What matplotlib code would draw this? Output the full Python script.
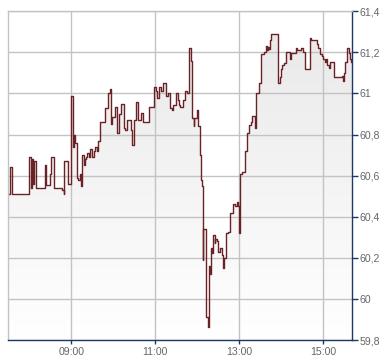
import numpy as np
import matplotlib
matplotlib.use("Agg")
import matplotlib.pyplot as plt
from matplotlib.patches import Polygon
from matplotlib.colors import LinearSegmentedColormap

# intraday price (step data, time of trade -> price)
times = [
    "07:31", "07:33", "07:36", "08:00", "08:03", "08:04", "08:06", "08:07", "08:09", "08:22",
    "08:24", "08:30", "08:31", "08:35", "08:47", "08:49", "08:50", "08:56", "09:00", "09:03",
    "09:04", "09:06", "09:08", "09:10", "09:12", "09:14", "09:16", "09:18", "09:20", "09:21",
    "09:23", "09:25", "09:27", "09:30", "09:32", "09:34", "09:37", "09:39", "09:41", "09:49",
    "09:53", "09:56", "09:57", "09:58", "10:03", "10:06", "10:09", "10:11", "10:15", "10:17",
    "10:20", "10:25", "10:27", "10:30", "10:33", "10:36", "10:40", "10:42", "10:51", "10:58",
    "11:01", "11:03", "11:06", "11:09", "11:11", "11:16", "11:18", "11:21", "11:24", "11:26",
    "11:30", "11:32", "11:34", "11:36", "11:40", "11:43", "11:45", "11:48", "11:49", "11:51",
    "11:53", "11:55", "11:56", "12:00", "12:02", "12:04", "12:05", "12:06", "12:07", "12:08",
    "12:09", "12:13", "12:15", "12:17", "12:19", "12:20", "12:21", "12:23", "12:25", "12:26",
    "12:28", "12:30", "12:33", "12:35", "12:37", "12:39", "12:42", "12:44", "12:47", "12:51",
    "12:52", "12:54", "12:57", "12:59", "13:00", "13:01", "13:04", "13:09", "13:11", "13:12",
    "13:14", "13:17", "13:19", "13:23", "13:24", "13:29", "13:32", "13:35", "13:39", "13:40",
    "13:41", "13:43", "13:44", "13:46", "13:56", "13:58", "14:00", "14:02", "14:04", "14:07",
    "14:13", "14:15", "14:21", "14:23", "14:29", "14:31", "14:34", "14:41", "14:43", "14:51",
    "14:53", "14:56", "14:58", "15:00", "15:03", "15:04", "15:06", "15:08", "15:10", "15:16",
    "15:27", "15:28", "15:30", "15:32", "15:34", "15:35", "15:37", "15:39", "15:40", "15:41",
]
prices = [
    60.51, 60.64, 60.51, 60.69, 60.54, 60.68, 60.56, 60.67, 60.54, 60.65,
    60.555, 60.61, 60.69, 60.54, 60.53, 60.51, 60.67, 60.56, 60.99, 60.74,
    60.80, 60.76, 60.59, 60.58, 60.61, 60.55, 60.70, 60.65, 60.68, 60.69,
    60.71, 60.69, 60.73, 60.69, 60.72, 60.74, 60.72, 60.77, 60.86, 60.93,
    61.00, 61.02, 60.85, 60.885, 60.935, 60.81, 60.90, 60.95, 60.83, 60.82,
    60.87, 60.82, 60.75, 60.87, 60.96, 60.87, 60.905, 60.86, 60.935, 61.03,
    61.01, 60.98, 61.03, 61.01, 61.05, 60.99, 61.00, 60.93, 60.92, 60.945,
    61.00, 60.97, 60.945, 60.935, 60.97, 61.01, 61.00, 61.05, 61.22, 61.16,
    60.88, 60.84, 60.88, 60.92, 60.84, 60.70, 60.66, 60.58, 60.55, 60.19,
    60.34, 59.91, 59.865, 60.16, 60.12, 60.25, 60.225, 60.31, 60.27, 60.29,
    60.28, 60.23, 60.25, 60.215, 60.15, 60.20, 60.32, 60.325, 60.42, 60.45,
    60.46, 60.45, 60.47, 60.45, 60.32, 60.61, 60.62, 60.72, 60.76, 60.81,
    60.845, 60.86, 60.89, 60.83, 61.00, 61.05, 61.19, 61.20, 61.23, 61.21,
    61.225, 61.215, 61.26, 61.29, 61.05, 61.08, 61.12, 61.14, 61.15, 61.20,
    61.17, 61.195, 61.22, 61.21, 61.22, 61.20, 61.12, 61.27, 61.26, 61.24,
    61.22, 61.19, 61.18, 61.17, 61.155, 61.17, 61.14, 61.125, 61.155, 61.08,
    61.085, 61.06, 61.10, 61.155, 61.17, 61.22, 61.195, 61.17, 61.155, 61.155,
]
x_ticks = ["09:00", "11:00", "13:00", "15:00"]
y_ticks = [59.8, 60.0, 60.2, 60.4, 60.6, 60.8, 61.0, 61.2, 61.4]
x_range = ["07:30", "15:42"]


def to_min(s):
    h, m = s.split(":")
    return int(h) * 60 + int(m)


t = np.array([to_min(s) for s in times], dtype=float)
p = np.array(prices)
x0, x1 = to_min(x_range[0]), to_min(x_range[1])
y0, y1 = y_ticks[0], y_ticks[-1]

LINE = "#6b2227"
GRID = "#c3c3c3"
AXIS = "#1d3867"
TXT = "#666666"

fig = plt.figure(figsize=(3.9, 3.64), dpi=100)
ax = fig.add_axes([8.3 / 390, 24 / 364, 344 / 390, 328.7 / 364])
ax.set_xlim(x0, x1)
ax.set_ylim(y0, y1)

# step polygon for the gradient area under the line
sx = np.repeat(t, 2)[1:]
sy = np.repeat(p, 2)[:-1]
verts = np.column_stack([np.r_[sx[0], sx, sx[-1]], np.r_[y0, sy, y0]])
poly = Polygon(verts, closed=True, facecolor="none", edgecolor="none")
ax.add_patch(poly)
cmap = LinearSegmentedColormap.from_list("g", ["#ffffff", "#e8e8e8"])
grad = np.linspace(0, 1, 256).reshape(-1, 1)
im = ax.imshow(grad, extent=[x0, x1, y0, y1], origin="lower", aspect="auto",
               cmap=cmap, zorder=1)
im.set_clip_path(poly)

ax.step(t, p, where="post", color=LINE, lw=1.0, zorder=3)

ax.set_xticks([to_min(s) for s in x_ticks])
ax.set_xticklabels(x_ticks)
ax.set_yticks(y_ticks)
ax.set_yticklabels([f"{v:g}".replace(".", ",") for v in y_ticks])
ax.grid(True, color=GRID, lw=1.0, zorder=2)
ax.set_axisbelow(False)
for gl in ax.get_xgridlines() + ax.get_ygridlines():
    gl.set_zorder(2)

ax.yaxis.tick_right()
ax.tick_params(axis="y", direction="out", length=4, width=1, color=AXIS,
               labelcolor=TXT, labelsize=7.6, pad=1)
ax.tick_params(axis="x", direction="out", length=3, width=1, color=AXIS,
               labelcolor=TXT, labelsize=7.6, pad=2)
for lab in ax.get_xticklabels() + ax.get_yticklabels():
    lab.set_family("Liberation Sans")

ax.spines["left"].set_color(GRID)
ax.spines["top"].set_color(GRID)
ax.spines["right"].set_color(AXIS)
ax.spines["bottom"].set_color(AXIS)
for s in ax.spines.values():
    s.set_linewidth(1.0)
    s.set_zorder(4)

fig.savefig("out.png", dpi=100)
